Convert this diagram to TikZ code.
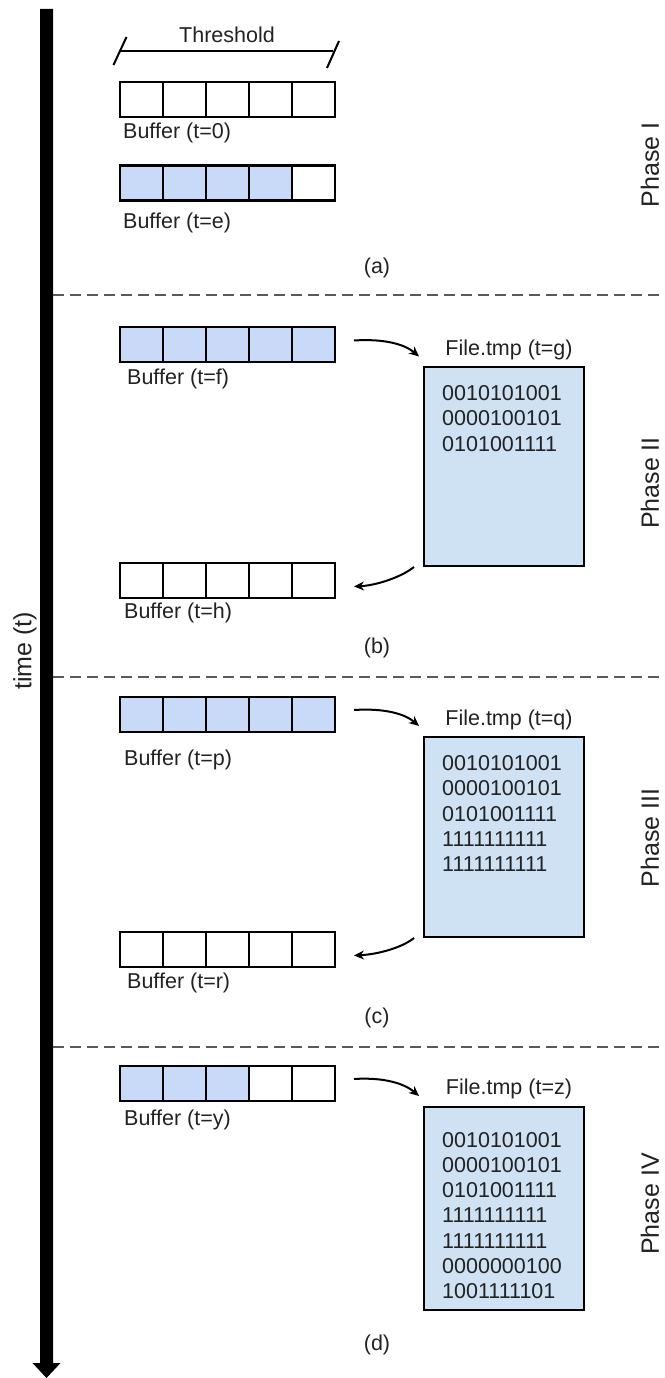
\documentclass[tikz,border=0pt]{standalone}
\usepackage{fontspec}
\setmainfont{Liberation Sans}
\usetikzlibrary{arrows.meta}
\definecolor{bufblue}{HTML}{C9DAF8}
\definecolor{fileblue}{HTML}{CFE2F3}
\definecolor{sepgray}{HTML}{5A5A5A}
\definecolor{ink}{HTML}{222222}

% one buffer of five cells; the first #3 cells are filled
\newcommand\bufrow[3]{%
  \foreach \i in {1,...,5}{%
    \ifnum\i>#3\relax\def\cfill{white}\else\def\cfill{bufblue}\fi
    \node[cell, fill=\cfill] (#1-\i) at ({98.5+43*\i},#2) {};
  }%
}
% lines of bits written into a temp file
\newcommand\bitlines[3]{%
  \foreach \t [count=\k] in {#3}{%
    \node[bits, anchor=base west] (#1-\k) at (442,{#2+25.3*(\k-1)}) {\t};
  }%
}

\begin{document}
\begin{tikzpicture}[x=1pt,y=-1pt,
  cell/.style={draw=black, line width=2.4pt, minimum width=43pt,
    minimum height=35pt, inner sep=0pt, outer sep=0pt},
  filebox/.style={draw=black, line width=2.4pt, fill=fileblue,
    minimum width=160pt, inner sep=0pt, outer sep=0pt, anchor=north west},
  lbl/.style={font=\fontsize{21.5}{25}\selectfont, text=ink, inner sep=0pt},
  bits/.style={lbl},
  phase/.style={font=\fontsize{25}{28}\selectfont, text=ink, inner sep=0pt, rotate=90},
  flow/.style={draw=black, line width=2pt, -{Stealth[length=10pt,width=9pt]}},
  sep/.style={draw=sepgray, line width=1.5pt, dash pattern=on 11pt off 6pt},
]
\useasboundingbox (0,0) rectangle (664,1378);

% time axis
\fill[black] (40,9) -- (53,9) -- (53,1363) -- (60.5,1363) -- (46.5,1378)
  -- (32.5,1363) -- (40,1363) -- cycle;
\node[phase, font=\fontsize{25}{28}\selectfont] (time) at (25,651) {time (t)};

% phase separators
\draw[sep] (53,295) -- (664,295);
\draw[sep] (53,677) -- (664,677);
\draw[sep] (53,1047) -- (664,1047);

% ---------------- Phase I ----------------
\node[lbl] (thr) at (227,35) {Threshold};
\coordinate (thL) at (120,51);
\coordinate (thR) at (333,51);
\draw[line width=2pt] (thL) -- (thR);
\draw[line width=2pt] (113.5,65) -- (126.5,37);
\draw[line width=2pt] (327,68) -- (339,41);

\bufrow{a}{99.5}{0}
\node[lbl, anchor=west] (la) at (123,133) {Buffer (t=0)};
\bufrow{e}{183}{4}
\node[lbl, anchor=west] (le) at (123,223) {Buffer (t=e)};
\node[lbl] (capa) at (377,268) {(a)};
\node[phase] (ph1) at (650,165) {Phase I};

% ---------------- Phase II ----------------
\bufrow{f}{344.5}{5}
\node[lbl, anchor=west] (lf) at (127,379) {Buffer (t=f)};
\node[filebox, minimum height=199pt] (g) at (424,367) {};
\node[lbl] (lg) at (509,350) {File.tmp (t=g)};
\bitlines{gb}{400.6}{0010101001,0000100101,0101001111}
\bufrow{h}{580.5}{0}
\node[lbl, anchor=west] (lh) at (124,613) {Buffer (t=h)};
\node[lbl] (capb) at (377,648) {(b)};
\node[phase] (ph2) at (650,483) {Phase II};
\draw[flow] ([xshift=19pt,yshift=4pt]f-5.east) .. controls +(31,-2) and +(-14,-12) .. ([yshift=10.5pt,xshift=-5pt]g.north west);
\draw[flow] ([xshift=-10pt,yshift=-1pt]g.south west) .. controls +(-14,11) and +(21,-1) .. ([xshift=19pt,yshift=-6pt]h-5.east);

% ---------------- Phase III ----------------
\bufrow{p}{714.5}{5}
\node[lbl, anchor=west] (lp) at (124,760) {Buffer (t=p)};
\node[filebox, minimum height=200pt] (q) at (424,737) {};
\node[lbl] (lq) at (509,720) {File.tmp (t=q)};
\bitlines{qb}{770.6}{0010101001,0000100101,0101001111,1111111111,1111111111}
\bufrow{r}{949.5}{0}
\node[lbl, anchor=west] (lr) at (127,983) {Buffer (t=r)};
\node[lbl] (capc) at (377,1018) {(c)};
\node[phase] (ph3) at (650,838) {Phase III};
\draw[flow] ([xshift=19pt,yshift=4.5pt]p-5.east) .. controls +(31,-2) and +(-14,-12) .. ([yshift=11pt,xshift=-5pt]q.north west);
\draw[flow] ([xshift=-10pt,yshift=-1pt]q.south west) .. controls +(-14,11) and +(21,-1) .. ([xshift=19pt,yshift=-6pt]r-5.east);

% ---------------- Phase IV ----------------
\bufrow{y}{1083.5}{3}
\node[lbl, anchor=west] (ly) at (124,1120) {Buffer (t=y)};
\node[filebox, minimum height=203pt] (z) at (424,1107) {};
\node[lbl] (lz) at (509,1089) {File.tmp (t=z)};
\bitlines{zb}{1147}{0010101001,0000100101,0101001111,1111111111,1111111111,0000000100,1001111101}
\node[lbl] (capd) at (377,1345) {(d)};
\node[phase] (ph4) at (650,1204) {Phase IV};
\draw[flow] ([xshift=19pt,yshift=4.5pt]y-5.east) .. controls +(31,-2) and +(-14,-12) .. ([yshift=11pt,xshift=-5pt]z.north west);
\end{tikzpicture}
\end{document}
